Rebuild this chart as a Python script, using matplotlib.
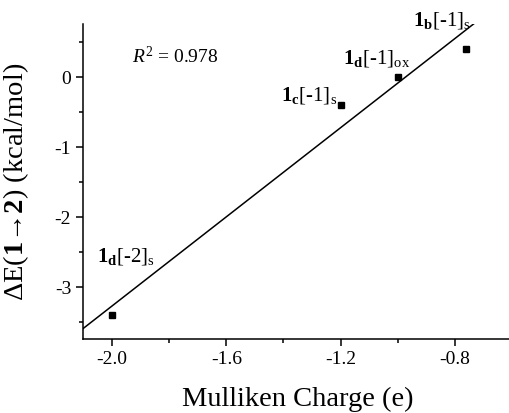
import numpy as np
import matplotlib
matplotlib.use("Agg")
import matplotlib.pyplot as plt
from matplotlib.ticker import MultipleLocator, FormatStrFormatter

# Data
charge = [-2.0, -1.2, -1.0, -0.76]        # Mulliken charge (e)
delta_e = [-3.4, -0.4, 0.0, 0.4]          # dE(1->2) (kcal/mol)
point_labels = [r"$\mathbf{1_d}$[-2]$_\mathrm{s}$",
                r"$\mathbf{1_c}$[-1]$_\mathrm{s}$",
                r"$\mathbf{1_d}$[-1]$_\mathrm{ox}$",
                r"$\mathbf{1_b}$[-1]$_\mathrm{s}$"]
label_pos_x = [-2.052, -1.41, -1.193, -0.947]
label_pos_y = [-2.63, -0.33, 0.20, 0.73]
r2_text = r"$R^2$ = 0.978"

plt.rcParams["font.family"] = ["Liberation Serif", "DejaVu Serif"]
plt.rcParams["mathtext.fontset"] = "custom"
plt.rcParams["mathtext.rm"] = "Liberation Serif"
plt.rcParams["mathtext.it"] = "Liberation Serif:italic"
plt.rcParams["mathtext.bf"] = "Liberation Serif:bold"
plt.rcParams["axes.unicode_minus"] = False

fig = plt.figure(figsize=(5.09, 4.13), dpi=100)
ax = fig.add_axes([83 / 509, 74 / 413, 426 / 509, 315 / 413])

xlim = (-2.1015, -0.611)
ylim = (-3.74, 0.757)

# linear fit through the points
slope, intercept = np.polyfit(charge, delta_e, 1)
xx = np.array(xlim)
ax.plot(xx, slope * xx + intercept, color="black", lw=1.1)
ax.plot(charge, delta_e, "s", color="black", ms=4.3)

for lx, ly, txt in zip(label_pos_x, label_pos_y, point_labels):
    ax.text(lx, ly, txt, fontsize=15, ha="left", va="baseline", clip_on=False)
ax.text(-1.93, 0.20, r2_text, fontsize=14, ha="left", va="baseline")

ax.set_xlim(*xlim)
ax.set_ylim(*ylim)
ax.xaxis.set_major_locator(MultipleLocator(0.4))
ax.xaxis.set_minor_locator(MultipleLocator(0.2))
ax.xaxis.set_major_formatter(FormatStrFormatter("%.1f"))
ax.yaxis.set_major_locator(MultipleLocator(1))
ax.yaxis.set_minor_locator(MultipleLocator(0.5))
ax.yaxis.set_major_formatter(FormatStrFormatter("%d"))

for s in ["top", "right"]:
    ax.spines[s].set_visible(False)
for s in ["left", "bottom"]:
    ax.spines[s].set_linewidth(1.1)
ax.tick_params(which="major", direction="out", length=5, width=1.1, labelsize=14)
ax.tick_params(which="minor", direction="out", length=3, width=1.1)

ax.set_xlabel("Mulliken Charge (e)", fontsize=20.5)
ax.xaxis.set_label_coords(0.505, -0.152)
ax.set_ylabel("\u0394E($\\mathbf{1}$\u2192$\\mathbf{2}$) (kcal/mol)", fontsize=20.5)
ax.yaxis.set_label_coords(-0.122, 0.5)

fig.savefig("out.png", dpi=100)
